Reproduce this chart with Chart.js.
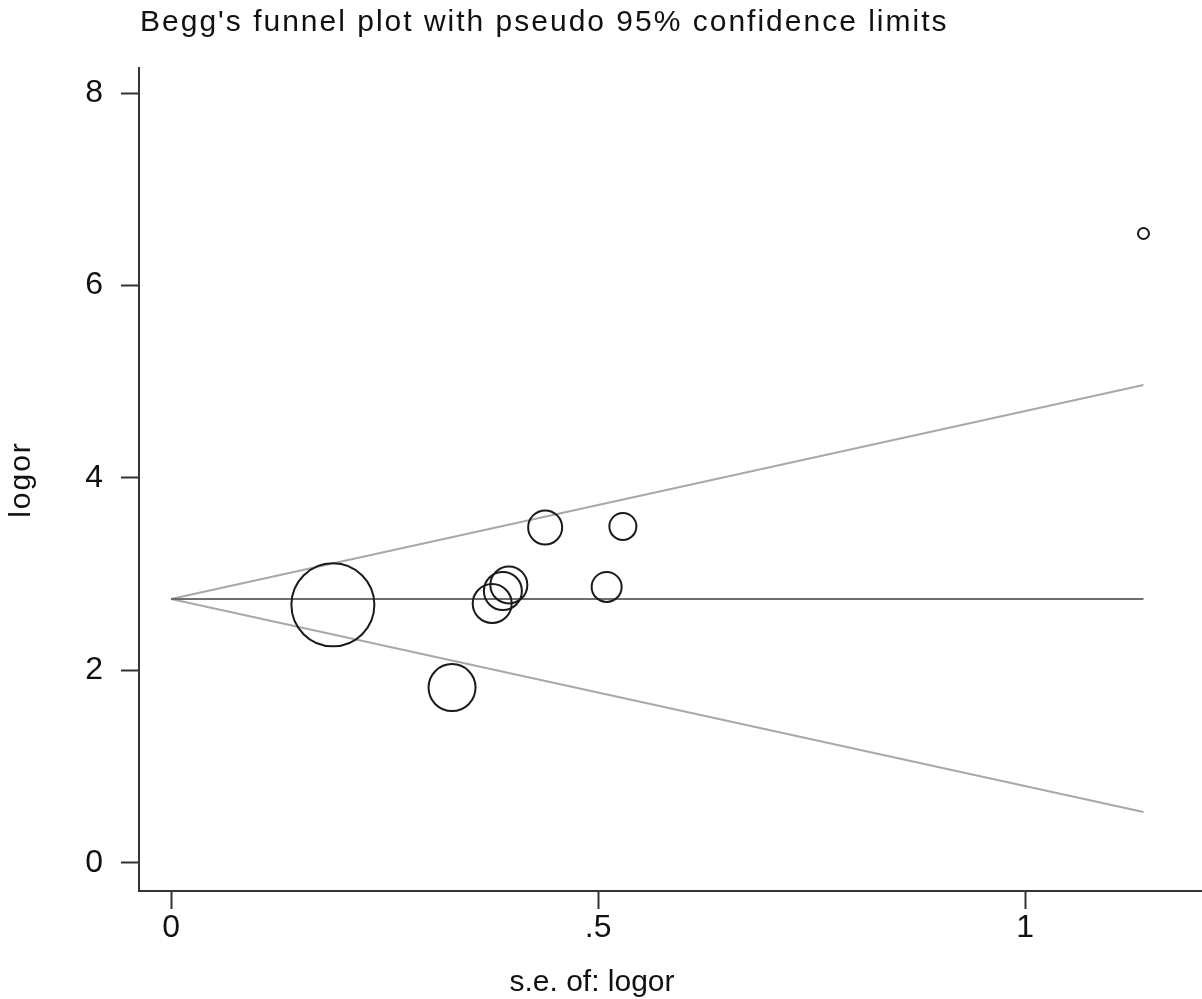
<!DOCTYPE html>
<html>
<head>
<meta charset="utf-8">
<script src="https://cdn.jsdelivr.net/npm/chart.js@4"></script>
<style>
  html, body { margin: 0; padding: 0; background: #fff; }
  #wrap { width: 1202px; height: 999px; }
</style>
</head>
<body>
<div id="wrap"><canvas id="c" width="1202" height="999"></canvas></div>
<script>
const FONT = "'Liberation Sans', Arial, sans-serif";

// studies: standard error, log odds ratio, marker size (weight)
const seValues = [0.1895, 0.329, 0.376, 0.3885, 0.3955, 0.438, 0.510, 0.529, 1.1385];
const logorValues = [2.68, 1.82, 2.694, 2.824, 2.887, 3.485, 2.866, 3.495, 6.54];
const markerSizes = [41.5, 23.5, 19.5, 19, 18.5, 17, 15, 13.5, 5.5];

// pooled estimate and pseudo 95% limits (end points)
const lineSe = [0, 1.1385];
const pooledLine = [2.741, 2.741];
const upperLimit = [2.741, 4.966];
const lowerLimit = [2.741, 0.527];

const xTicks = [0, 0.5, 1];
const yTicks = [0, 2, 4, 6, 8];

const toPoints = (xs, ys) => xs.map((x, i) => ({ x: x, y: ys[i] }));

const textPlugin = {
  id: "texts",
  afterDraw(chart) {
    const ctx = chart.ctx;
    const area = chart.chartArea;
    ctx.save();
    ctx.fillStyle = "#111";
    ctx.textBaseline = "middle";
    ctx.textAlign = "left";
    ctx.font = "30px " + FONT;
    ctx.letterSpacing = "2px";
    ctx.fillText("Begg's funnel plot with pseudo 95% confidence limits", 140, 23);
    ctx.letterSpacing = "0px";
    ctx.textAlign = "center";
    ctx.fillText("s.e. of: logor", 592, 983);
    // y axis title
    ctx.translate(22, (area.top + area.bottom) / 2);
    ctx.rotate(-Math.PI / 2);
    ctx.letterSpacing = "2px";
    ctx.fillText("logor", 0, 0);
    ctx.restore();
  }
};

new Chart(document.getElementById("c"), {
  type: "bubble",
  data: {
    datasets: [
      {
        type: "line",
        data: toPoints(lineSe, upperLimit),
        borderColor: "#a8a8a8",
        borderWidth: 2,
        pointRadius: 0,
        order: 3
      },
      {
        type: "line",
        data: toPoints(lineSe, lowerLimit),
        borderColor: "#a8a8a8",
        borderWidth: 2,
        pointRadius: 0,
        order: 3
      },
      {
        type: "line",
        data: toPoints(lineSe, pooledLine),
        borderColor: "#6e6e6e",
        borderWidth: 2,
        pointRadius: 0,
        order: 2
      },
      {
        type: "bubble",
        data: seValues.map((x, i) => ({ x: x, y: logorValues[i], r: markerSizes[i] })),
        backgroundColor: "rgba(0,0,0,0)",
        borderColor: "#1a1a1a",
        borderWidth: 2,
        hoverRadius: 0,
        order: 1
      }
    ]
  },
  options: {
    responsive: false,
    animation: false,
    layout: { autoPadding: false, padding: { top: 68, right: 0, left: 0, bottom: 0 } },
    plugins: {
      legend: { display: false },
      tooltip: { enabled: false },
      title: { display: false }
    },
    scales: {
      x: {
        type: "linear",
        min: -0.0375,
        max: 1.207,
        afterFit: (s) => { s.height = 108; s.paddingLeft = 0; s.paddingRight = 0; },
        afterBuildTicks: (s) => { s.ticks = xTicks.map(v => ({ value: v })); },
        grid: { drawOnChartArea: false, tickLength: 18, tickWidth: 2, color: "#333" },
        border: { display: true, color: "#333", width: 2 },
        ticks: {
          padding: 0,
          color: "#111",
          font: { family: FONT, size: 32 },
          callback: (v) => v === 0.5 ? ".5" : String(v)
        }
      },
      y: {
        type: "linear",
        min: -0.294,
        max: 8.26,
        afterFit: (s) => { s.width = 139; s.paddingTop = 0; s.paddingBottom = 0; },
        afterBuildTicks: (s) => { s.ticks = yTicks.map(v => ({ value: v })); },
        grid: { drawOnChartArea: false, tickLength: 18, tickWidth: 2, color: "#333" },
        border: { display: true, color: "#333", width: 2 },
        ticks: {
          padding: 18,
          color: "#111",
          font: { family: FONT, size: 32 }
        }
      }
    }
  },
  plugins: [textPlugin]
});
</script>
</body>
</html>
